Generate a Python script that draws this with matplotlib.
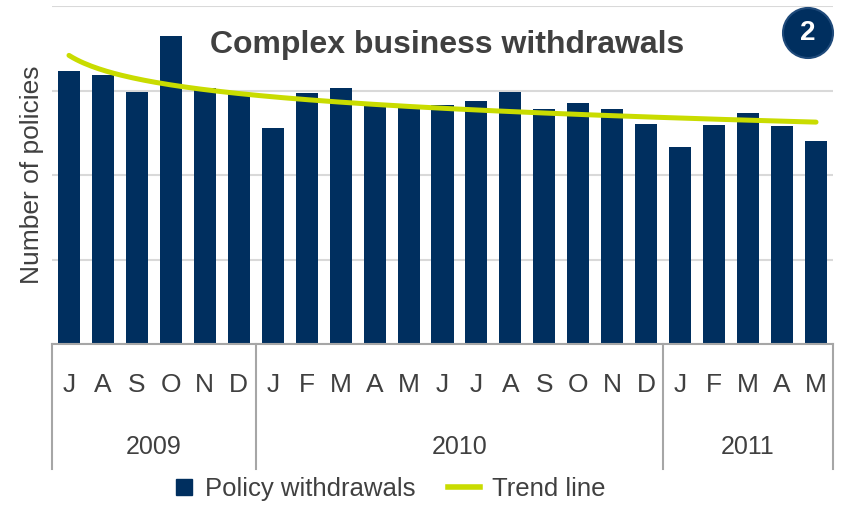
import numpy as np
import matplotlib.pyplot as plt
from matplotlib.lines import Line2D
from matplotlib.patches import Circle

plt.rcParams['font.family'] = ['Liberation Sans', 'DejaVu Sans']

# Monthly complex business withdrawals, Jul 2009 - May 2011
months = ['J', 'A', 'S', 'O', 'N', 'D',
          'J', 'F', 'M', 'A', 'M', 'J', 'J', 'A', 'S', 'O', 'N', 'D',
          'J', 'F', 'M', 'A', 'M']
withdrawals = [323, 318, 298, 365, 303, 297,
               256, 297, 303, 284, 279, 283, 288, 298, 278, 285, 278, 260,
               233, 259, 273, 258, 240]
years = ['2009', '2010', '2011']
year_counts = [6, 12, 5]

navy = '#002F5F'
lime = '#C9DC00'
grey_txt = '#404040'

x = np.arange(len(withdrawals))

# logarithmic trend fitted to the monthly counts, drawn on a fine grid
coef = np.polyfit(np.log(x + 1), withdrawals, 1)
xs = np.linspace(0, len(x) - 1, 200)
trend = coef[0] * np.log(xs + 1) + coef[1]

fig = plt.figure(figsize=(8.44, 5.08), dpi=100)
ax = fig.add_axes([52 / 844, 1 - 344 / 508, 781 / 844, 338 / 508])

ax.bar(x, withdrawals, width=0.65, color=navy, zorder=2)
ax.plot(xs, trend, color=lime, lw=3.6, solid_capstyle='round', zorder=3)

ax.set_xlim(-0.5, len(x) - 0.5)
ax.set_ylim(0, 400)
ax.set_yticks([0, 100, 200, 300, 400])
ax.set_yticklabels([])
ax.yaxis.grid(True, color='#D9D9D9', lw=1.5, zorder=0)
ax.tick_params(axis='both', length=0)
ax.set_xticks([])
for s in ['left', 'right', 'top']:
    ax.spines[s].set_visible(False)
ax.spines['bottom'].set_color('#A6A6A6')
ax.spines['bottom'].set_linewidth(1.5)

ax.set_ylabel('Number of policies', fontsize=19, color=grey_txt, labelpad=2)

# two-level category axis: months then years, with separators
xt = ax.get_xaxis_transform()
for i, m in enumerate(months):
    ax.text(i, -0.121, m, transform=xt, ha='center', va='center',
            fontsize=19, color=grey_txt)
bounds = np.concatenate([[0], np.cumsum(year_counts)]) - 0.5
for b in bounds:
    ax.plot([b, b], [0, -0.37], transform=xt, color='#A6A6A6', lw=1.5,
            clip_on=False)
for y, lo, hi in zip(years, bounds[:-1], bounds[1:]):
    ax.text((lo + hi) / 2, -0.305, y, transform=xt, ha='center', va='center',
            fontsize=18, color=grey_txt)

fig.text(447 / 844, 1 - 45 / 508, 'Complex business withdrawals',
         ha='center', va='center', fontsize=23, fontweight='bold', color=grey_txt)

# numbered badge in the corner (placed in inches so it stays round)
badge = Circle((8.08, 4.75), 0.25, transform=fig.dpi_scale_trans,
               facecolor=navy, edgecolor='#1F4A7A', lw=1.5)
fig.patches.append(badge)
fig.text(808 / 844, 1 - 33 / 508, '2', ha='center', va='center',
         fontsize=20, fontweight='bold', color='white')

# two legend entries placed separately so each handle gets its own width
leg_kw = dict(loc='center left', frameon=False, fontsize=18.5,
              labelcolor=grey_txt, borderpad=0, borderaxespad=0)
leg1 = fig.legend([Line2D([], [], marker='s', ls='none', color=navy,
                          markersize=12)], ['Policy withdrawals'],
                  bbox_to_anchor=(175 / 844, 19 / 508), handlelength=0.7,
                  handletextpad=0.45, **leg_kw)
leg2 = fig.legend([Line2D([], [], color=lime, lw=4)], ['Trend line'],
                  bbox_to_anchor=(448 / 844, 19 / 508), handlelength=1.25,
                  handletextpad=0.45, **leg_kw)

fig.savefig('out.png', dpi=100)
